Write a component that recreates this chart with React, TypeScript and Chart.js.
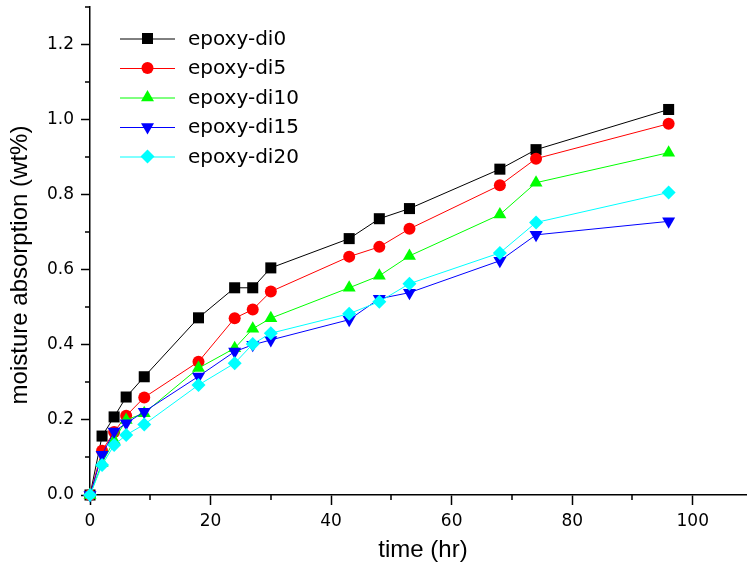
import React, { useEffect, useRef } from 'react';
import { Chart, registerables } from 'chart.js';
Chart.register(...registerables);

const TIME = [0, 2, 4, 6, 9, 18, 24, 27, 30, 43, 48, 53, 68, 74, 96];
const DI0 = [0, 0.157, 0.208, 0.261, 0.315, 0.472, 0.552, 0.552, 0.605, 0.683, 0.736, 0.763, 0.868, 0.92, 1.027];
const DI5 = [0, 0.118, 0.168, 0.211, 0.26, 0.355, 0.471, 0.494, 0.542, 0.635, 0.661, 0.709, 0.825, 0.896, 0.989];
const DI10 = [0, 0.085, 0.145, 0.2, 0.218, 0.338, 0.391, 0.443, 0.471, 0.552, 0.584, 0.637, 0.747, 0.832, 0.912];
const DI15 = [0, 0.107, 0.169, 0.191, 0.222, 0.316, 0.382, 0.4, 0.413, 0.467, 0.523, 0.539, 0.624, 0.693, 0.729];
const DI20 = [0, 0.08, 0.133, 0.16, 0.188, 0.293, 0.351, 0.402, 0.431, 0.483, 0.515, 0.563, 0.645, 0.726, 0.806];

const SERIES_LABELS = ['epoxy-di0', 'epoxy-di5', 'epoxy-di10', 'epoxy-di15', 'epoxy-di20'];
const SERIES_VALUES = [DI0, DI5, DI10, DI15, DI20];
const SERIES_COLORS = ['#000000', '#ff0000', '#00ff00', '#0000ff', '#00ffff'];
const SERIES_SHAPES = ['square', 'circle', 'up', 'down', 'diamond'];

const X_MAJOR = [0, 20, 40, 60, 80, 100];
const X_MINOR = [10, 30, 50, 70, 90];
const Y_MAJOR = [0, 0.2, 0.4, 0.6, 0.8, 1.0, 1.2];
const Y_MINOR = [0.1, 0.3, 0.5, 0.7, 0.9, 1.1, 1.3];

const X_TITLE = 'time (hr)';
const Y_TITLE = 'moisture absorption (wt%)';

function shapeStyle(shape: string) {
  switch (shape) {
    case 'square': return { pointStyle: 'rect', radius: 7.8, rotation: 0 };
    case 'circle': return { pointStyle: 'circle', radius: 6, rotation: 0 };
    case 'up': return { pointStyle: 'triangle', radius: 7.5, rotation: 0 };
    case 'down': return { pointStyle: 'triangle', radius: 7.5, rotation: 180 };
    default: return { pointStyle: 'rectRot', radius: 7, rotation: 0 };
  }
}

function drawMarker(ctx: CanvasRenderingContext2D, shape: string, x: number, y: number, color: string) {
  ctx.fillStyle = color;
  ctx.beginPath();
  if (shape === 'square') {
    ctx.rect(x - 5.5, y - 5.5, 11, 11);
  } else if (shape === 'circle') {
    ctx.arc(x, y, 6, 0, Math.PI * 2);
  } else if (shape === 'up') {
    ctx.moveTo(x, y - 7.5);
    ctx.lineTo(x + 6.5, y + 3.75);
    ctx.lineTo(x - 6.5, y + 3.75);
    ctx.closePath();
  } else if (shape === 'down') {
    ctx.moveTo(x, y + 7.5);
    ctx.lineTo(x + 6.5, y - 3.75);
    ctx.lineTo(x - 6.5, y - 3.75);
    ctx.closePath();
  } else {
    ctx.moveTo(x, y - 7);
    ctx.lineTo(x + 7, y);
    ctx.lineTo(x, y + 7);
    ctx.lineTo(x - 7, y);
    ctx.closePath();
  }
  ctx.fill();
}

const legendPlugin = {
  id: 'customLegend',
  afterDraw(chart: any) {
    const ctx: CanvasRenderingContext2D = chart.ctx;
    ctx.save();
    const x0 = 120, x1 = 175, xm = 147.5, xt = 188;
    SERIES_LABELS.forEach((label, i) => {
      const y = 38.5 + i * 29.5;
      ctx.strokeStyle = SERIES_COLORS[i];
      ctx.lineWidth = 1;
      ctx.beginPath();
      ctx.moveTo(x0, y + 0.5);
      ctx.lineTo(x1, y + 0.5);
      ctx.stroke();
      drawMarker(ctx, SERIES_SHAPES[i], xm, y, SERIES_COLORS[i]);
      ctx.fillStyle = '#000';
      ctx.font = '20px "DejaVu Sans"';
      ctx.textBaseline = 'middle';
      ctx.textAlign = 'left';
      ctx.fillText(label, xt, y + 1);
    });
    ctx.restore();
  },
};

const titlePlugin = {
  id: 'axisTitles',
  afterDraw(chart: any) {
    const ctx: CanvasRenderingContext2D = chart.ctx;
    ctx.save();
    ctx.fillStyle = '#000';
    ctx.font = '24px "Liberation Sans"';
    ctx.textAlign = 'center';
    ctx.textBaseline = 'middle';
    ctx.fillText(X_TITLE, 423, 550);
    ctx.translate(20, 265);
    ctx.rotate(-Math.PI / 2);
    ctx.fillText(Y_TITLE, 0, 0);
    ctx.restore();
  },
};

const minorTickPlugin = {
  id: 'minorTicks',
  afterDraw(chart: any) {
    const ctx: CanvasRenderingContext2D = chart.ctx;
    const xs = chart.scales.x;
    const ys = chart.scales.y;
    const area = chart.chartArea;
    ctx.save();
    ctx.strokeStyle = '#000';
    ctx.lineWidth = 1.5;
    ctx.beginPath();
    X_MINOR.forEach((v) => {
      const px = Math.round(xs.getPixelForValue(v));
      ctx.moveTo(px, area.bottom);
      ctx.lineTo(px, area.bottom + 5);
    });
    Y_MINOR.forEach((v) => {
      const py = Math.round(ys.getPixelForValue(v));
      ctx.moveTo(area.left, py);
      ctx.lineTo(area.left - 5, py);
    });
    ctx.stroke();
    ctx.restore();
  },
};

export default function App() {
  const ref = useRef<HTMLCanvasElement>(null);
  useEffect(() => {
    const datasets = SERIES_LABELS.map((label, i) => {
      const s = shapeStyle(SERIES_SHAPES[i]);
      return {
        label,
        data: TIME.map((t, j) => ({ x: t, y: SERIES_VALUES[i][j] })),
        borderColor: SERIES_COLORS[i],
        backgroundColor: SERIES_COLORS[i],
        borderWidth: 1,
        pointStyle: s.pointStyle,
        pointRadius: s.radius,
        pointRotation: s.rotation,
        pointBorderWidth: 0,
        pointBackgroundColor: SERIES_COLORS[i],
        pointBorderColor: SERIES_COLORS[i],
        showLine: true,
        tension: 0,
        clip: false,
        order: SERIES_LABELS.length - i,
      };
    });
    const chart = new Chart(ref.current as HTMLCanvasElement, {
      type: 'scatter',
      data: { datasets } as any,
      options: {
        responsive: false,
        maintainAspectRatio: false,
        animation: false,
        layout: { autoPadding: false, padding: { top: 7, right: 0, left: 0, bottom: 0 } },
        plugins: { legend: { display: false }, tooltip: { enabled: false } },
        scales: {
          x: {
            type: 'linear',
            min: 0,
            max: 109,
            afterBuildTicks: (s: any) => { s.ticks = X_MAJOR.map((v) => ({ value: v })); },
            afterFit: (s: any) => { s.height = 70; s.paddingLeft = 0; s.paddingRight = 0; s.paddingTop = 0; s.paddingBottom = 0; },
            border: { display: true, color: '#000', width: 1.5 },
            grid: { display: true, drawOnChartArea: false, drawTicks: true, tickLength: 10, tickColor: '#000', tickWidth: 1.5 },
            ticks: {
              color: '#000',
              padding: 6,
              maxRotation: 0,
              font: { family: '"DejaVu Sans"', size: 17 },
              callback: (v: any) => String(v),
            },
            title: { display: false },
          },
          y: {
            type: 'linear',
            min: 0,
            max: 1.3,
            afterBuildTicks: (s: any) => { s.ticks = Y_MAJOR.map((v) => ({ value: v })); },
            afterFit: (s: any) => { s.width = 90; s.paddingLeft = 0; s.paddingRight = 0; s.paddingTop = 0; s.paddingBottom = 0; },
            border: { display: true, color: '#000', width: 1.5 },
            grid: { display: true, drawOnChartArea: false, drawTicks: true, tickLength: 9, tickColor: '#000', tickWidth: 1.5 },
            ticks: {
              color: '#000',
              padding: 7,
              font: { family: '"DejaVu Sans"', size: 17 },
              callback: (v: any) => Number(v).toFixed(1),
            },
            title: { display: false },
          },
        },
      },
      plugins: [minorTickPlugin, legendPlugin, titlePlugin],
    } as any);
    return () => chart.destroy();
  }, []);
  return (
    <div style={{ position: 'absolute', left: 0, top: 0, width: 747, height: 565, background: '#fff' }}>
      <canvas ref={ref} width={747} height={565} style={{ display: 'block', width: 747, height: 565 }} />
    </div>
  );
}
